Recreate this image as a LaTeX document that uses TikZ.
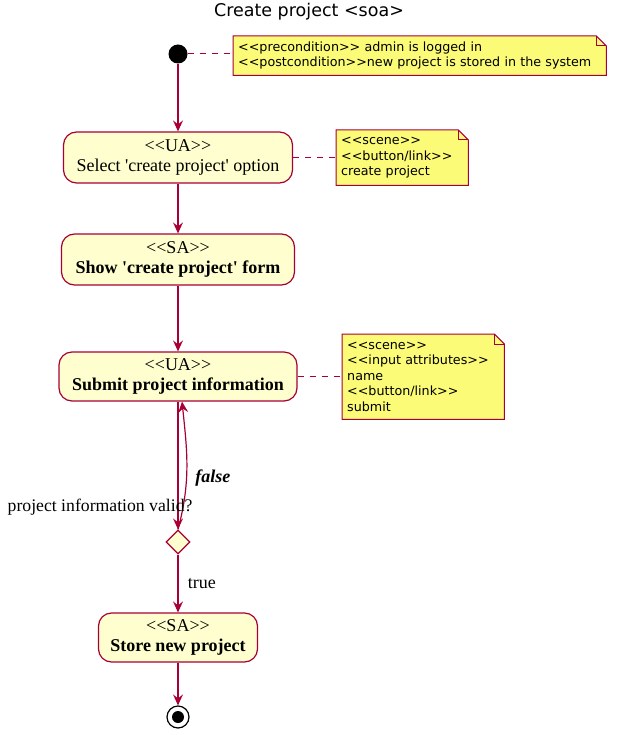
\documentclass[tikz,border=0pt]{standalone}
\usepackage{fontspec}
\setmainfont{Liberation Serif}[Ligatures=TeXOff]
\setsansfont{DejaVu Sans}[Ligatures=TeXOff]
\usetikzlibrary{arrows.meta,backgrounds,shapes.geometric}

\definecolor{umlred}{HTML}{A80036}
\definecolor{actfill}{HTML}{FEFECE}
\definecolor{notefill}{HTML}{FBFB77}

\tikzset{
  action/.style={draw=umlred, fill=actfill, rounded corners=13pt, line width=1.2pt, align=center, inner sep=0pt, font=\fontsize{18}{19.5}\selectfont},
  note/.style={anchor=north west, align=left, inner xsep=5pt, inner ysep=0pt, font=\sffamily\fontsize{12.7}{15.5}\selectfont},
  arr/.style={draw=umlred, line width=1.2pt, -{Stealth[length=11pt,width=10pt,inset=4pt]}},
  notelink/.style={draw=umlred, line width=1pt, dash pattern=on 6pt off 6pt},
}

\begin{document}
\begin{tikzpicture}[x=1pt, y=-1pt]

% command drawing dimensions
\newcommand{\foldsize}{10}
\newcommand{\xmid}{178}
\newcommand{\drawnote}[1]{%
  \draw[umlred, fill=notefill, line width=1pt] (#1.north west) -- ([xshift=-\foldsize]#1.north east) -- ([yshift=-\foldsize]#1.north east) -- (#1.south east) -- (#1.south west) -- cycle;
  \draw[umlred, line width=1pt] ([xshift=-\foldsize]#1.north east) -- ([xshift=-\foldsize, yshift=-\foldsize]#1.north east) -- ([yshift=-\foldsize]#1.north east);}

% ad hoc bounding box
\useasboundingbox (0, 0) rectangle (618, 735);

% title
\node[font=\sffamily\fontsize{17.5}{20}\selectfont] (title) at (309, 12) {Create project <soa>};

% start, decision and end
\node[circle, fill=black, minimum size=19pt, inner sep=0pt] (start) at (\xmid, 54) {};
\node[diamond, draw=umlred, fill=actfill, line width=1.2pt, minimum size=24pt, inner sep=0pt] (dec) at (\xmid, 542) {};
\node[circle, draw=black, fill=white, line width=1.2pt, minimum size=22pt, inner sep=0pt,
  path picture={\fill[black] (path picture bounding box.center) circle (6pt);}] (stop) at (\xmid, 717) {};

% activities
\node[action, minimum width=229pt, minimum height=51pt] (select) at (\xmid, 157.5) {<<UA>>\\Select 'create project' option};
\node[action, minimum width=233pt, minimum height=51pt] (show) at (\xmid, 259.5) {<<SA>>\\\textbf{Show 'create project' form}};
\node[action, minimum width=238pt, minimum height=49pt] (submit) at (\xmid, 376.5) {<<UA>>\\\textbf{Submit project information}};
\node[action, minimum width=159pt, minimum height=49pt] (store) at (\xmid, 637.5) {<<SA>>\\\textbf{Store new project}};

% notes
\node[note, text width=363pt, minimum height=39pt] (condnote) at (233, 36) {<<precondition>> admin is logged in\\<<postcondition>>new project is stored in the system};
\node[note, text width=122pt, minimum height=55pt] (selectnote) at (336, 130) {<<scene>>\\<<button/link>>\\create project};
\node[note, text width=152pt, minimum height=85pt] (submitnote) at (342, 334) {<<scene>>\\<<input attributes>>\\name\\<<button/link>>\\submit};

\begin{scope}[on background layer]
\drawnote{condnote}
\drawnote{selectnote}
\drawnote{submitnote}
\end{scope}

% note links
\draw[notelink] (start.east) -- (start.east -| condnote.west);
\draw[notelink] (select.east) -- (select.east -| selectnote.west);
\draw[notelink] (submit.east) -- (submit.east -| submitnote.west);

% flow
\draw[arr] (start) -- (select);
\draw[arr] (select) -- (show);
\draw[arr] (show) -- (submit);
\draw[arr] (submit) -- (dec);
\draw[arr] (dec.north) to[out=75, in=-84] node[pos=0.4, right=5pt, font=\fontsize{18}{20}\selectfont\bfseries\itshape] {false} ([xshift=4pt]submit.south);
\draw[arr] (dec) -- (store) node[midway, right=6pt, font=\fontsize{18}{20}\selectfont] {true};
\draw[arr] (store) -- (stop);

% decision question
\node[anchor=east, font=\fontsize{17.7}{20}\selectfont] (question) at (196, 507) {project information valid?};

\end{tikzpicture}
\end{document}
